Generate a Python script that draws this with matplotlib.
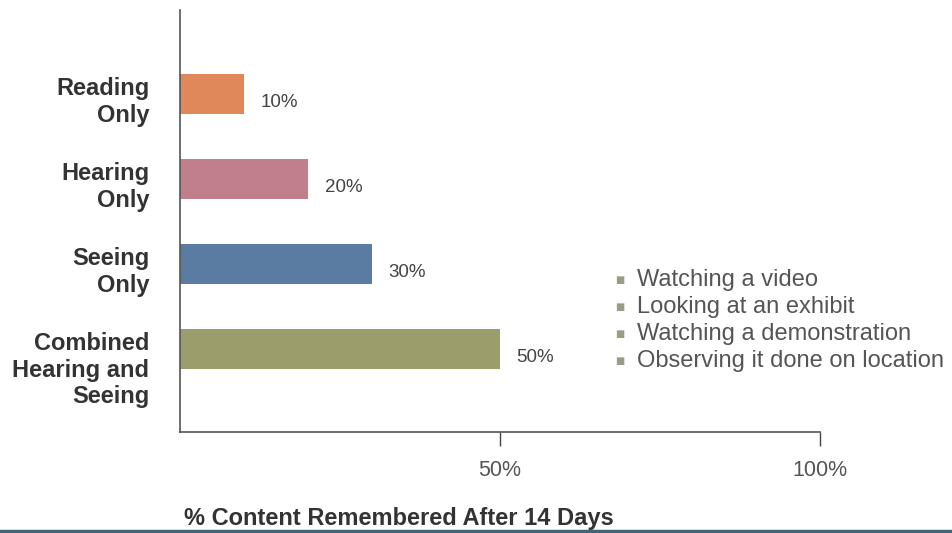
import matplotlib.pyplot as plt
from matplotlib.lines import Line2D
import numpy as np

plt.rcParams['font.family'] = ['Liberation Sans', 'DejaVu Sans']

categories = ['Reading\nOnly', 'Hearing\nOnly', 'Seeing\nOnly', 'Combined\nHearing and\nSeeing']
values = [10, 20, 30, 50]
colors = ['#E1885B', '#C17E8B', '#5A7CA2', '#9B9E6B']
legend_items = ['Watching a video', 'Looking at an exhibit',
                'Watching a demonstration', 'Observing it done on location']
xticks = [50, 100]
xtick_labels = ['50%', '100%']

fig = plt.figure(figsize=(9.52, 5.33), dpi=100)
ax = fig.add_axes([0.189, 0.1895, 0.672, 0.792])

ypos = np.arange(len(values))
h = 0.47
ax.barh(ypos, values, height=h, color=colors)
for y, v in zip(ypos, values):
    ax.annotate(f'{v}%', (v, y), xytext=(12, -6), textcoords='offset points',
                ha='left', va='center', fontsize=13.5, color='#444444')

ax.set_xlim(0, 100)
ax.set_ylim(3.98, -0.99)
ax.set_xticks(xticks, xtick_labels, fontsize=15.5, color='#555555')
ax.tick_params(axis='x', length=10, width=1, color='#444444', pad=10)
ax.set_yticks(ypos - h / 2 + 0.04, categories, fontsize=17, fontweight='bold',
              color='#333333', va='top', ha='right', linespacing=1.2)
ax.tick_params(axis='y', length=0, pad=22)
for s in ['top', 'right']:
    ax.spines[s].set_visible(False)
for s in ['left', 'bottom']:
    ax.spines[s].set_color('#555555')
    ax.spines[s].set_linewidth(1.2)

ax.set_xlabel('% Content Remembered After 14 Days', fontsize=17, fontweight='bold',
              color='#333333', loc='left')
ax.xaxis.set_label_coords(0.006, -0.178)

# bullet list on the right
for i, item in enumerate(legend_items):
    yy = 0.475 - i * 0.0505
    fig.text(0.646, yy, '\u25a0', fontsize=7, color='#9a9c84', va='center', family='DejaVu Sans')
    fig.text(0.669, yy, item, fontsize=17, color='#555555', va='center')

fig.add_artist(Line2D([0, 1], [0.004, 0.004], color='#3e6579', linewidth=2.5))

fig.savefig('out.png', dpi=100)
